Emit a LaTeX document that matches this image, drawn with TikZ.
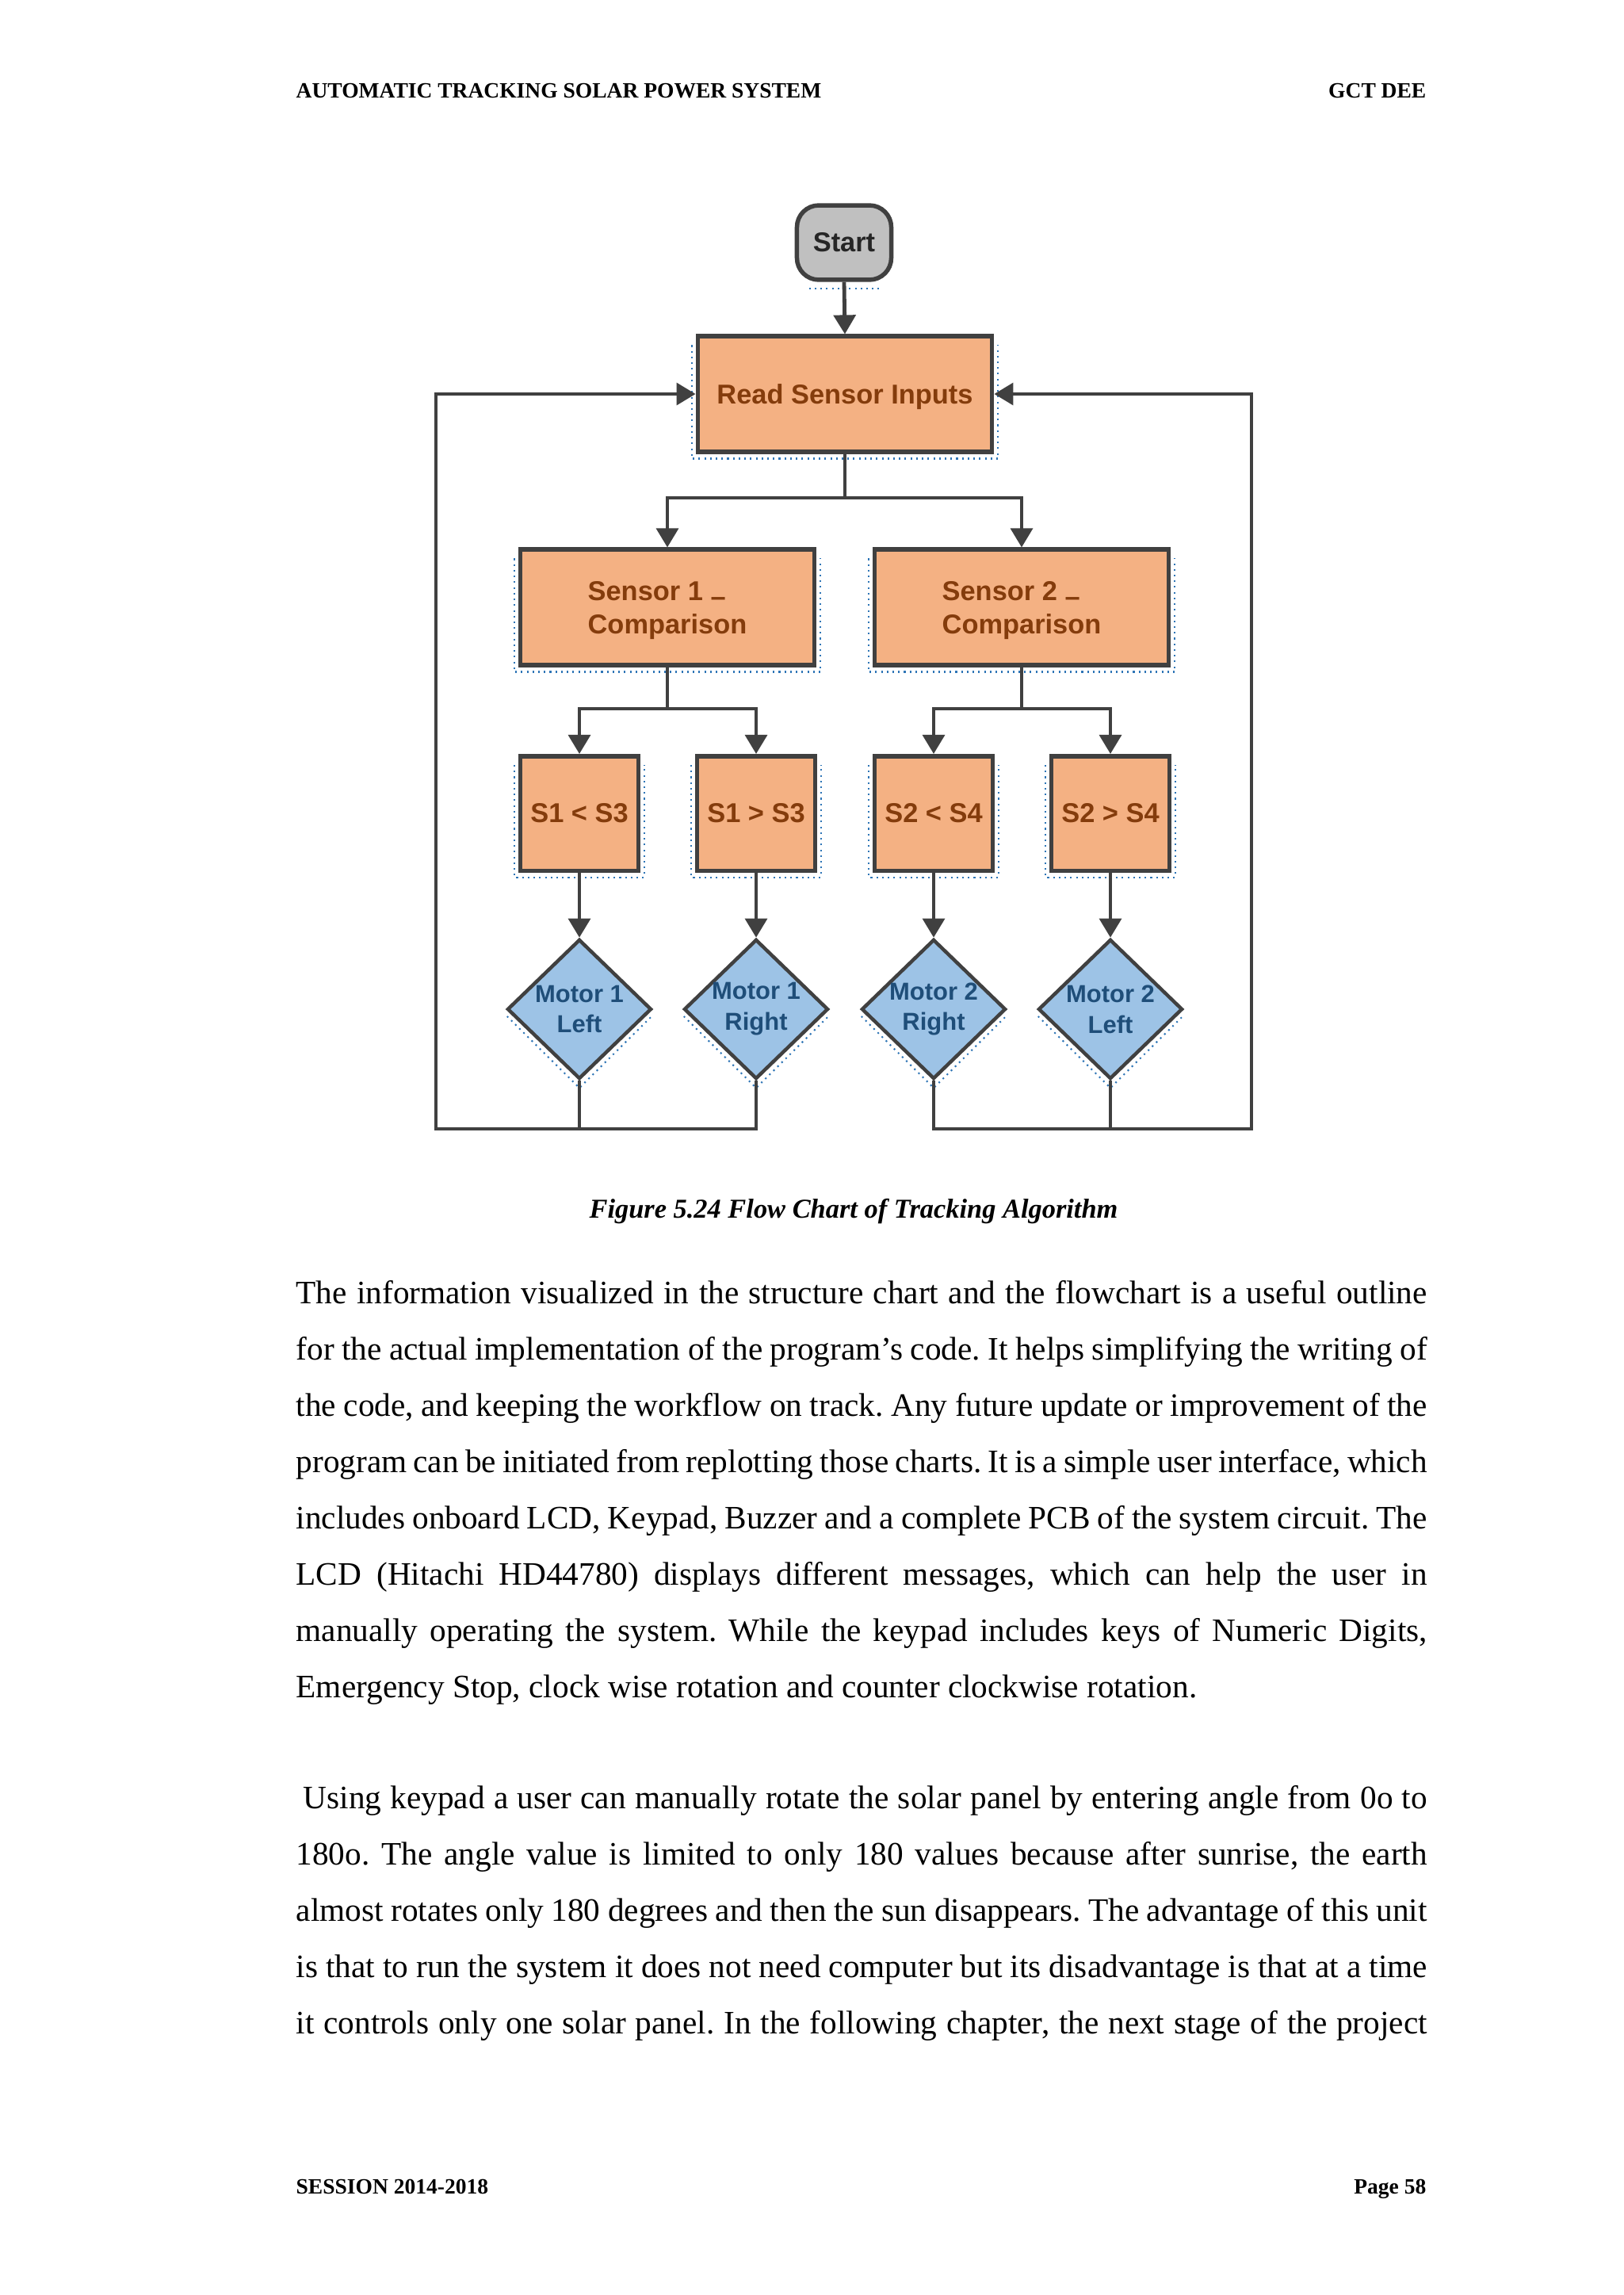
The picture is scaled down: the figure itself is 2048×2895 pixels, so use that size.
\documentclass[tikz,border=0pt]{standalone}
\usepackage{fontspec}
\setmainfont{Liberation Serif}
\newfontfamily\diafont{Liberation Sans}
\usetikzlibrary{shapes.geometric,arrows.meta,calc}
\definecolor{boxfill}{HTML}{F4B183}
\definecolor{boxtext}{HTML}{843C0C}
\definecolor{dfill}{HTML}{9DC3E6}
\definecolor{dtext}{HTML}{1F4E79}
\definecolor{sfill}{HTML}{C0C0C0}
\definecolor{edge}{HTML}{404040}
\definecolor{dotblue}{HTML}{2E75B6}
\newcommand\bxfont{\diafont\bfseries\fontsize{10}{12.2}\selectfont}
\newcommand\dxfont{\diafont\bfseries\fontsize{9}{11.3}\selectfont}
\newcommand\lowdash{\raisebox{-0.22em}{–}}
\frenchspacing
\begin{document}
\begin{tikzpicture}[x=0.29066pt,y=-0.29066pt,
  procbox/.style={draw=edge, line width=1.6pt, fill=boxfill, text=boxtext, font=\bxfont, align=left, inner sep=0pt},
  bigbox/.style={procbox, text depth=0pt, minimum width=107.9pt, minimum height=42.3pt},
  smallbox/.style={procbox, minimum width=43.2pt, minimum height=42pt},
  startbox/.style={draw=edge, line width=1.6pt, fill=sfill, rounded corners=8pt, minimum width=34.6pt, minimum height=27.3pt, inner sep=0pt, font=\bxfont, text=black!85},
  dia/.style={shape=diamond, draw=edge, line width=1.3pt, fill=dfill, minimum width=52.9pt, minimum height=51.2pt, inner sep=0pt},
  diatext/.style={font=\dxfont, text=dtext, align=center, inner sep=0pt},
  conn/.style={draw=edge, line width=1.4pt},
  arr/.style={conn, -{Triangle[width=8pt,length=7pt]}},
  dots/.style={draw=dotblue, line width=0.6pt, dash pattern=on 0.6pt off 1.5pt},
  hdr/.style={font=\fontsize{8}{9.6}\selectfont\bfseries, inner sep=0pt},
  body/.style={font=\fontsize{12}{14}\selectfont, anchor=base west, inner sep=0pt}
]
\useasboundingbox[fill=white] (0,0) rectangle (2048,2895);

% header / footer
\node[hdr, anchor=base west] (h1) at (373,123) {AUTOMATIC TRACKING SOLAR POWER SYSTEM};
\node[hdr, anchor=base east] (h2) at (1800,123) {GCT DEE};
\node[hdr, anchor=base west] (f1) at (373,2767) {SESSION 2014-2018};
\node[hdr, anchor=base east] (f2) at (1800,2767) {Page 58};

% flowchart nodes
\node[startbox] (start) at (1065,306) {Start};
\node[bigbox] (read) at (1066,497) {Read Sensor Inputs};
\node[bigbox] (s1) at (842,766) {Sensor 1 \lowdash\\Comparison};
\node[bigbox] (s2) at (1289,766) {Sensor 2 \lowdash\\Comparison};
\node[smallbox] (r1) at (731,1026) {S1 < S3};
\node[smallbox] (r2) at (954,1026) {S1 > S3};
\node[smallbox] (r3) at (1178,1026) {S2 < S4};
\node[smallbox] (r4) at (1401,1026) {S2 > S4};
\node[dia] (d1) at (731,1273) {};
\node[dia] (d2) at (954,1273) {};
\node[dia] (d3) at (1178,1273) {};
\node[dia] (d4) at (1401,1273) {};
\node[diatext] (t1) at (d1) {Motor 1\\Left};
\node[diatext] (t2) at (d2) {Motor 1\\Right};
\node[diatext] (t3) at (d3) {Motor 2\\Right};
\node[diatext] (t4) at (d4) {Motor 2\\Left};

% dotted selection traces
\foreach \n in {read,s1,s2,r1,r2,r3,r4}{
  \draw[dots] ($(\n.north west)+(-5,14)$) -- ($(\n.south west)+(-5,6)$) -- ($(\n.south east)+(5,6)$) -- ($(\n.north east)+(5,14)$);
}
\foreach \n in {d1,d2,d3,d4}{
  \draw[dots] ($(\n.west)+(2,9)$) -- ($(\n.south)+(0,9)$) -- ($(\n.east)+(-2,9)$);
}
\draw[dots] ($(start.south west)+(18,8)$) -- ($(start.south east)+(-18,8)$);

% connectors
\draw[arr] (start.south) -- (read.north);
\coordinate (b0) at (1066,628);
\draw[conn] (read.south) -- (b0);
\draw[arr] (b0) -| (s1.north);
\draw[arr] (b0) -| (s2.north);
\coordinate (b1) at (842,894);
\coordinate (b2) at (1289,894);
\draw[conn] (s1.south) -- (b1);
\draw[arr] (b1) -| (r1.north);
\draw[arr] (b1) -| (r2.north);
\draw[conn] (s2.south) -- (b2);
\draw[arr] (b2) -| (r3.north);
\draw[arr] (b2) -| (r4.north);
\draw[arr] (r1.south) -- (d1.north);
\draw[arr] (r2.south) -- (d2.north);
\draw[arr] (r3.south) -- (d3.north);
\draw[arr] (r4.south) -- (d4.north);
\coordinate (L) at (550,1424);
\coordinate (R) at (1579,1424);
\draw[arr] (d1.south) |- (L) |- (read.west);
\draw[conn] (d2.south) |- (d1.south |- L);
\draw[arr] (d4.south) |- (R) |- (read.east);
\draw[conn] (d3.south) |- (d4.south |- R);

% caption
\node[font=\fontsize{10}{12}\selectfont\bfseries\itshape, anchor=base, inner sep=0pt] (cap) at (1077,1536) {Figure 5.24 Flow Chart of Tracking Algorithm};

% paragraph 1
\node[body] (p1) at (373,1644) {\makebox[414.8pt][s]{The information visualized in the structure chart and the flowchart is a useful outline}};
\node[body] (p2) at (373,1715) {\makebox[414.8pt][s]{for the actual implementation of the program’s code. It helps simplifying the writing of}};
\node[body] (p3) at (373,1786) {\makebox[414.8pt][s]{the code, and keeping the workflow on track. Any future update or improvement of the}};
\node[body] (p4) at (373,1857) {\makebox[414.8pt][s]{program can be initiated from replotting those charts. It is a simple user interface, which}};
\node[body] (p5) at (373,1928) {\makebox[414.8pt][s]{includes onboard LCD, Keypad, Buzzer and a complete PCB of the system circuit. The}};
\node[body] (p6) at (373,1999) {\makebox[414.8pt][s]{LCD (Hitachi HD44780) displays different messages, which can help the user in}};
\node[body] (p7) at (373,2070) {\makebox[414.8pt][s]{manually operating the system. While the keypad includes keys of Numeric Digits,}};
\node[body] (p8) at (373,2141) {Emergency Stop, clock wise rotation and counter clockwise rotation.};

% paragraph 2
\node[body] (q1) at (382,2281) {\makebox[412.2pt][s]{Using keypad a user can manually rotate the solar panel by entering angle from 0o to}};
\node[body] (q2) at (373,2352) {\makebox[414.8pt][s]{180o. The angle value is limited to only 180 values because after sunrise, the earth}};
\node[body] (q3) at (373,2423) {\makebox[414.8pt][s]{almost rotates only 180 degrees and then the sun disappears. The advantage of this unit}};
\node[body] (q4) at (373,2494) {\makebox[414.8pt][s]{is that to run the system it does not need computer but its disadvantage is that at a time}};
\node[body] (q5) at (373,2565) {\makebox[414.8pt][s]{it controls only one solar panel. In the following chapter, the next stage of the project}};
\end{tikzpicture}
\end{document}
